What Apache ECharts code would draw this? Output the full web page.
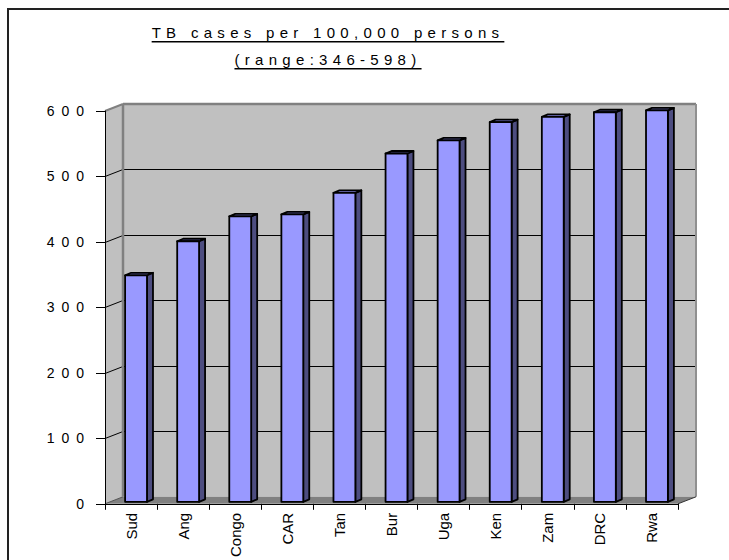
<!DOCTYPE html>
<html>
<head>
<meta charset="utf-8">
<script src="https://cdn.jsdelivr.net/npm/echarts@6/dist/echarts.min.js"></script>
<style>
html,body{margin:0;padding:0;background:#fff;overflow:hidden;}
#chart{width:729px;height:560px;}
</style>
</head>
<body>
<div id="chart"></div>
<script>
const categories = ['Sud','Ang','Congo','CAR','Tan','Bur','Uga','Ken','Zam','DRC','Rwa'];
const values = [346, 398, 436, 439, 472, 532, 552, 580, 588, 595, 598];
const yTicks = [0, 100, 200, 300, 400, 500, 600];
const titleLines = ['TB cases per 100,000 persons', '(range:346-598)'];

const FONT = "'Liberation Sans', Arial, sans-serif";
const DEPTH_X = 18, DEPTH_Y = -7;

const chart = echarts.init(document.getElementById('chart'), null, {renderer: 'svg'});

function wallsRender(params, api) {
  const cs = params.coordSys;
  const L = cs.x, R = cs.x + cs.width, T = cs.y, B = cs.y + cs.height;
  const dx = DEPTH_X, dy = DEPTH_Y;
  const ch = [];
  ch.push({type:'polygon', shape:{points:[[L,B],[L,T],[L+dx,T+dy],[L+dx,B+dy]]}, style:{fill:'#c0c0c0', stroke:null}});
  ch.push({type:'rect', shape:{x:L+dx, y:T+dy, width:R-L, height:B-T}, style:{fill:'#c0c0c0', stroke:null}});
  ch.push({type:'polygon', shape:{points:[[L,B],[R,B],[R+dx,B+dy],[L+dx,B+dy]]}, style:{fill:'#808080', stroke:null}});
  for (let i = 1; i < yTicks.length - 1; i++) {
    const y = Math.round(api.coord([0, yTicks[i]])[1]) + 0.5;
    ch.push({type:'line', shape:{x1:L, y1:y, x2:L+dx, y2:y+dy}, style:{stroke:'#000', lineWidth:1}});
    ch.push({type:'line', shape:{x1:L+dx, y1:y+dy, x2:R+dx, y2:y+dy}, style:{stroke:'#000', lineWidth:1}});
  }
  ch.push({type:'line', shape:{x1:L, y1:B, x2:L+dx, y2:B+dy}, style:{stroke:'#555', lineWidth:1}});
  ch.push({type:'line', shape:{x1:L+dx, y1:T+dy, x2:R+dx, y2:T+dy}, style:{stroke:'#808080', lineWidth:2.5}});
  ch.push({type:'line', shape:{x1:L, y1:T, x2:L+dx, y2:T+dy}, style:{stroke:'#808080', lineWidth:2}});
  ch.push({type:'line', shape:{x1:L+dx, y1:T+dy, x2:L+dx, y2:B+dy}, style:{stroke:'#808080', lineWidth:2.5}});
  ch.push({type:'line', shape:{x1:R+dx, y1:T+dy, x2:R+dx, y2:B+dy}, style:{stroke:'#909090', lineWidth:2}});
  ch.push({type:'line', shape:{x1:R, y1:B, x2:R+dx, y2:B+dy}, style:{stroke:'#333', lineWidth:1}});
  return {type:'group', children: ch};
}

function barRender(params, api) {
  const idx = api.value(0), v = api.value(1);
  const top = api.coord([idx, v]);
  const base = api.coord([idx, 0]);
  const bw = api.size([1, 0])[0] * 0.42;
  const ox = 5, oy = -2, dx = 6, dy = -2.5;
  const x0 = top[0] - bw / 2 + ox, x1 = x0 + bw;
  const y0 = top[1] + oy, y1 = base[1] + oy;
  const st = {stroke:'#000', lineWidth:1.8, lineJoin:'round'};
  return {type:'group', children:[
    {type:'polygon', shape:{points:[[x1,y0],[x1+dx,y0+dy],[x1+dx,y1+dy],[x1,y1]]}, style:Object.assign({fill:'#4d4d80'}, st)},
    {type:'polygon', shape:{points:[[x0,y0],[x0+dx,y0+dy],[x1+dx,y0+dy],[x1,y0]]}, style:Object.assign({fill:'#7a7acc'}, st)},
    {type:'rect', shape:{x:x0, y:y0, width:bw, height:y1-y0}, style:Object.assign({fill:'#9999ff'}, st)}
  ]};
}

const option = {
  animation: false,
  backgroundColor: '#fff',
  grid: {left: 105, right: 51, top: 111, bottom: 56, containLabel: false},
  graphic: [
    {type:'line', shape:{x1:7, y1:9, x2:729, y2:9}, style:{stroke:'#222', lineWidth:2}, silent:true},
    {type:'line', shape:{x1:8, y1:8, x2:8, y2:560}, style:{stroke:'#222', lineWidth:2}, silent:true},
    {type:'text', x:328, y:19, style:{text: titleLines.join('\n'), font: '15px ' + FONT, fill:'#000',
      textAlign:'center', align:'center', textVerticalAlign:'top', verticalAlign:'top', lineHeight:27}, silent:true}
  ],
  xAxis: {
    type: 'category',
    data: categories,
    z: 5,
    axisLine: {show:true, lineStyle:{color:'#000', width:1}},
    axisTick: {show:true, interval:0, length:6, lineStyle:{color:'#000'}},
    axisLabel: {interval:0, rotate:90, margin:9, color:'#000', fontSize:15, fontFamily: FONT},
    splitLine: {show:false}
  },
  yAxis: {
    type: 'value',
    min: yTicks[0],
    max: yTicks[yTicks.length - 1],
    interval: yTicks[1] - yTicks[0],
    z: 5,
    axisLine: {show:true, lineStyle:{color:'#000', width:1}},
    axisTick: {show:true, length:9, lineStyle:{color:'#000'}},
    axisLabel: {margin:14, color:'#000', fontSize:14, fontFamily: FONT},
    splitLine: {show:false}
  },
  series: [
    {type:'custom', name:'walls', z:1, silent:true, clip:false, renderItem: wallsRender, data: [[0, 0]], encode:{x:0, y:1}},
    {type:'custom', name:'TB cases', z:2, clip:false, renderItem: barRender,
      data: values.map((v, i) => [i, v]), encode:{x:0, y:1}}
  ]
};

chart.setOption(option);

const yLabelSet = new Set(yTicks.map(String));
function styleTexts() {
  const texts = document.querySelectorAll('#chart svg text');
  texts.forEach(t => {
    const s = t.textContent;
    if (titleLines.includes(s)) {
      t.setAttribute('letter-spacing', '5.3');
      t.setAttribute('text-decoration', 'underline');
      t.style.letterSpacing = '5.3px';
      t.style.textDecoration = 'underline';
    } else if (yLabelSet.has(s)) {
      t.setAttribute('letter-spacing', '7');
      t.style.letterSpacing = '7px';
    }
  });
}
styleTexts();
chart.on('finished', styleTexts);
setTimeout(styleTexts, 0);
setTimeout(styleTexts, 200);
</script>
</body>
</html>
